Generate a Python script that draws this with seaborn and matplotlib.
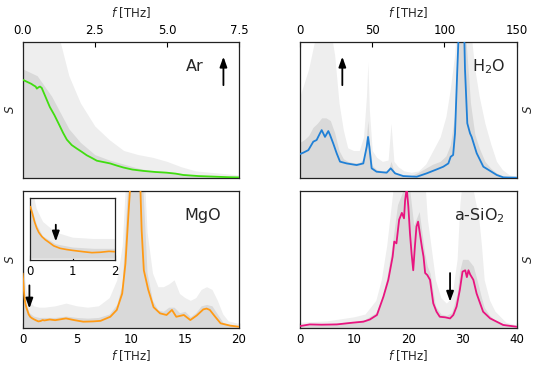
import matplotlib
matplotlib.use("Agg")
import matplotlib.pyplot as plt
import seaborn as sns
import numpy as np

sns.set_theme(style="ticks")
plt.rcParams['font.family'] = ['DejaVu Sans']
plt.rcParams['mathtext.fontset'] = 'dejavusans'

# ---------------- data ----------------
# Ar
ar_f = [0, 0.1, 0.2, 0.3, 0.37, 0.45, 0.49, 0.55, 0.6, 0.66, 0.72, 0.8, 0.94, 1.1, 1.24, 1.4, 1.53, 1.7, 1.87, 2.05,
        2.22, 2.4, 2.57, 2.8, 3.03, 3.25, 3.49, 3.8, 4.18, 4.6, 4.99, 5.3, 5.57, 6.1, 6.73, 7.1, 7.5]
ar_s = [0.72, 0.71, 0.70, 0.69, 0.68, 0.67, 0.655, 0.665, 0.67, 0.66, 0.63, 0.59, 0.52, 0.46, 0.40, 0.33, 0.28, 0.24, 0.215, 0.19,
        0.165, 0.145, 0.125, 0.115, 0.105, 0.09, 0.075, 0.06, 0.05, 0.042, 0.037, 0.03, 0.02, 0.012, 0.007, 0.004, 0.002]
ar_gf = [0, 0.5, 1.0, 1.3, 1.6, 2.0, 2.5, 3.0, 3.5, 4.0, 4.5, 5.0, 5.5, 6.0, 6.5, 7.0, 7.5]
ar_g_out = [1.3, 1.3, 1.2, 1.0, 0.75, 0.55, 0.38, 0.28, 0.2, 0.17, 0.15, 0.12, 0.08, 0.05, 0.04, 0.03, 0.02]
ar_g_in = [0.8, 0.75, 0.6, 0.48, 0.36, 0.26, 0.17, 0.13, 0.1, 0.07, 0.05, 0.045, 0.03, 0.018, 0.01, 0.007, 0.004]

# H2O
h_f = [0, 2.3, 5.8, 9.2, 11.5, 13.8, 15, 17.3, 19.6, 20.8, 23, 25.4, 27.7, 32.3, 39.2, 43.8, 46.2, 47.1, 48, 49.6,
       53, 60, 62.8, 65.8, 71.5, 80.8, 87.7, 94.6, 99.2, 102.7, 104.3, 106, 107.3, 108.9, 109.8, 111, 112, 113, 114.2, 115.8,
       117.7, 118.8, 122.3, 126.9, 136.2, 140.8, 150]
h_s = [0.174, 0.184, 0.203, 0.265, 0.277, 0.326, 0.35, 0.30, 0.343, 0.314, 0.252, 0.179, 0.118, 0.105, 0.093, 0.105, 0.228, 0.30, 0.228, 0.069,
       0.044, 0.037, 0.069, 0.032, 0.012, 0.007, 0.032, 0.061, 0.081, 0.105, 0.154, 0.167, 0.326, 0.8, 1.05, 1.4, 1.6, 1.4, 0.8, 0.40,
       0.326, 0.30, 0.18, 0.081, 0.02, 0.002, 0.0]
h_gf = [0, 3, 6, 9, 12, 15, 18, 21, 24, 27, 30, 33, 37, 41, 44, 46, 47, 48, 50, 53,
        57, 61, 63, 65, 68, 72, 77, 82, 87, 92, 97, 101, 104, 107, 109, 112, 115, 118, 121, 124,
        128, 132, 136, 140, 145, 150]
h_g_out = [0.6, 0.7, 0.8, 0.95, 1.1, 1.2, 1.2, 1.1, 0.9, 0.55, 0.35, 0.22, 0.2, 0.2, 0.3, 0.6, 0.85, 0.5, 0.2, 0.15,
           0.12, 0.13, 0.4, 0.12, 0.08, 0.05, 0.04, 0.05, 0.1, 0.2, 0.3, 0.45, 0.65, 0.9, 1.2, 1.6, 1.2, 1.1, 0.8, 0.6,
           0.4, 0.25, 0.12, 0.06, 0.02, 0.01]
h_g_in = [0.26, 0.28, 0.31, 0.37, 0.4, 0.44, 0.44, 0.42, 0.33, 0.2, 0.14, 0.12, 0.11, 0.11, 0.14, 0.3, 0.42, 0.26, 0.09, 0.06,
          0.05, 0.05, 0.12, 0.05, 0.025, 0.015, 0.015, 0.04, 0.07, 0.1, 0.12, 0.16, 0.24, 0.45, 1.0, 1.6, 1.0, 0.55, 0.32, 0.22,
          0.12, 0.07, 0.035, 0.015, 0.006, 0.003]

# MgO
mg_f = [0, 0.05, 0.1, 0.15, 0.2, 0.27, 0.35, 0.45, 0.55, 0.7, 0.85, 1.0, 1.25, 1.45, 1.65, 1.85, 2.0, 2.5, 3.0, 4.0,
        4.8, 5.6, 6.5, 7.2, 8.1, 8.7, 9.2, 9.5, 9.8, 10.0, 10.3, 10.5, 10.7, 10.85, 11.0, 11.2, 11.6, 12.1, 12.7, 13.3,
        13.8, 14.2, 14.9, 15.5, 16.1, 16.7, 17.0, 17.3, 17.8, 18.3, 19.2, 20.0]
mg_s = [0.397, 0.342, 0.281, 0.234, 0.2, 0.169, 0.145, 0.122, 0.098, 0.079, 0.07, 0.063, 0.053, 0.046, 0.049, 0.056, 0.053, 0.06, 0.055, 0.068,
        0.055, 0.044, 0.046, 0.05, 0.08, 0.13, 0.25, 0.47, 0.86, 1.1, 1.4, 1.5, 1.35, 1.1, 0.71, 0.42, 0.28, 0.15, 0.105, 0.093,
        0.13, 0.08, 0.093, 0.056, 0.09, 0.134, 0.14, 0.13, 0.08, 0.032, 0.015, 0.007]
mg_gf = [0, 0.15, 0.3, 0.6, 1, 1.5, 2, 3, 4, 5, 6, 7, 8, 8.7, 9.2, 9.6, 10, 10.5, 11, 11.5,
         12, 12.5, 13, 13.5, 14, 14.5, 15, 15.5, 16, 16.5, 17, 17.5, 18, 18.5, 19, 20]
mg_g_out = [0.6, 0.38, 0.28, 0.2, 0.16, 0.15, 0.15, 0.16, 0.18, 0.16, 0.15, 0.16, 0.22, 0.35, 0.6, 1.2, 1.6, 1.7, 1.5, 0.7,
            0.4, 0.3, 0.3, 0.32, 0.35, 0.25, 0.22, 0.2, 0.22, 0.28, 0.3, 0.28, 0.2, 0.1, 0.05, 0.03]
mg_g_in = [0.43, 0.26, 0.17, 0.11, 0.085, 0.075, 0.075, 0.075, 0.085, 0.075, 0.07, 0.075, 0.1, 0.17, 0.32, 0.9, 1.4, 1.6, 1.2, 0.4,
           0.2, 0.13, 0.12, 0.15, 0.15, 0.11, 0.12, 0.08, 0.11, 0.16, 0.17, 0.16, 0.1, 0.04, 0.02, 0.01]

# a-SiO2
si_f = [0, 1.8, 4, 6.8, 9.8, 11.7, 12.9, 14.2, 15.4, 16.3, 17.1, 17.4, 17.8, 18.3, 18.8, 19.2, 19.4, 19.7, 20.0, 20.3,
        20.6, 20.9, 21.2, 21.5, 21.8, 22.2, 22.5, 22.8, 23.1, 23.5, 24.0, 24.6, 25.2, 25.8, 26.8, 27.7, 28.3, 28.9, 29.5, 30.0,
        30.5, 30.8, 31.1, 31.4, 32.0, 32.6, 33.8, 35.1, 36.3, 37.5, 40]
si_s = [0.012, 0.024, 0.022, 0.024, 0.037, 0.044, 0.06, 0.093, 0.227, 0.35, 0.52, 0.63, 0.617, 0.79, 0.84, 0.80, 0.93, 1.02, 0.885, 0.69,
        0.54, 0.42, 0.59, 0.74, 0.776, 0.67, 0.59, 0.52, 0.4, 0.385, 0.35, 0.178, 0.117, 0.08, 0.076, 0.068, 0.093, 0.154, 0.276, 0.41,
        0.42, 0.37, 0.42, 0.39, 0.35, 0.25, 0.117, 0.068, 0.044, 0.02, 0.007]
si_gf = [0, 5, 10, 12, 14, 15, 16, 17, 18, 20, 21, 22, 23, 23.5, 24, 25, 26, 27, 28, 29,
         29.5, 30, 31, 32, 33, 33.5, 34, 35, 36, 38, 40]
si_g_out = [0.04, 0.05, 0.08, 0.1, 0.2, 0.35, 0.6, 0.95, 1.3, 1.4, 1.3, 1.3, 1.1, 0.8, 0.65, 0.35, 0.22, 0.18, 0.22, 0.5,
            0.9, 1.1, 1.1, 1.0, 0.8, 0.6, 0.35, 0.2, 0.12, 0.04, 0.02]
si_g_in = [0.02, 0.028, 0.045, 0.06, 0.11, 0.2, 0.36, 0.6, 0.9, 1.1, 0.75, 0.85, 0.55, 0.45, 0.4, 0.16, 0.1, 0.09, 0.11, 0.25,
           0.42, 0.5, 0.5, 0.45, 0.3, 0.22, 0.15, 0.09, 0.055, 0.02, 0.01]

# ticks / labels
ar_ticks = [0, 2.5, 5.0, 7.5]
ar_ticklabels = ['0.0', '2.5', '5.0', '7.5']
h_ticks = [0, 50, 100, 150]
mg_ticks = [0, 5, 10, 15, 20]
mg_inset_ticks = [0, 1, 2]
si_ticks = [0, 10, 20, 30, 40]

# ---------------- figure ----------------
W, H = 541, 368
fig = plt.figure(figsize=(W / 100, H / 100), dpi=100)

def rect(l, t, r, b):
    return [l / W, 1 - b / H, (r - l) / W, (b - t) / H]

ax_ar = fig.add_axes(rect(22.7, 41.7, 239, 177.7))
ax_h = fig.add_axes(rect(300, 41.7, 516.7, 177.7))
ax_mg = fig.add_axes(rect(22.7, 191, 239, 327.7))
ax_si = fig.add_axes(rect(300, 191, 516.7, 327.7))
ax_in = fig.add_axes(rect(30.3, 198.3, 115.3, 260))

GOUT = '#eeeeee'
GIN = '#d9d9d9'

def draw(ax, f, s, gf, gout, gin, color, lw=1.3):
    ax.fill_between(gf, 0, gout, color=GOUT, lw=0, zorder=1)
    ax.fill_between(gf, 0, gin, color=GIN, lw=0, zorder=2)
    sns.lineplot(x=f, y=s, ax=ax, color=color, lw=lw, zorder=3)

def style(ax, xlim, ylim, ticks, top=False, right=False, fs=8.5):
    ax.set_xlim(*xlim)
    ax.set_ylim(*ylim)
    ax.set_yticks([])
    ax.set_xticks(ticks)
    ax.tick_params(axis='x', direction='in', length=3.5, width=0.8, labelsize=fs, pad=3.5,
                   top=top, bottom=not top, labeltop=top, labelbottom=not top, colors='black')
    for sp in ax.spines.values():
        sp.set_color('#222222')
        sp.set_linewidth(0.9)
    if top:
        ax.xaxis.set_label_position('top')
    if right:
        ax.yaxis.set_label_position('right')

draw(ax_ar, ar_f, ar_s, ar_gf, ar_g_out, ar_g_in, '#40dd10')
draw(ax_h, h_f, h_s, h_gf, h_g_out, h_g_in, '#2080d6')
draw(ax_mg, mg_f, mg_s, mg_gf, mg_g_out, mg_g_in, '#ff9a15')
draw(ax_si, si_f, si_s, si_gf, si_g_out, si_g_in, '#e8157f')
draw(ax_in, mg_f, mg_s, mg_gf, mg_g_out, mg_g_in, '#ff9a15', lw=1.2)

style(ax_ar, (0, 7.5), (0, 1), ar_ticks, top=True)
ax_ar.set_xticklabels(ar_ticklabels)
style(ax_h, (0, 150), (0, 1), h_ticks, top=True, right=True)
style(ax_mg, (0, 20), (0, 1), mg_ticks)
style(ax_si, (0, 40), (0, 1), si_ticks, right=True)
style(ax_in, (0, 2), (-0.01, 0.46), mg_inset_ticks, fs=8.5)
ax_in.set_ylabel('')
ax_in.set_xlabel('')

for ax in (ax_ar, ax_h):
    ax.set_xlabel('$f$ [THz]', fontsize=8.5, labelpad=5)
for ax in (ax_mg, ax_si):
    ax.set_xlabel('$f$ [THz]', fontsize=8.5, labelpad=2)
for ax in (ax_ar, ax_h, ax_mg, ax_si):
    ax.set_ylabel('$S$', fontsize=8.5, labelpad=4)

for ax, name, px in ((ax_ar, 'Ar', 0.797), (ax_h, 'H$_2$O', 0.87), (ax_mg, 'MgO', 0.833), (ax_si, 'a-SiO$_2$', 0.83)):
    ax.text(px, 0.82, name, transform=ax.transAxes, fontsize=11.5, ha='center', va='center', zorder=5)

arrow_kw = dict(arrowstyle='-|>,head_length=0.5,head_width=0.18', color='black', lw=1.3)
ax_ar.annotate('', xy=(6.96, 0.91), xytext=(6.96, 0.66), arrowprops=arrow_kw, zorder=6)
ax_h.annotate('', xy=(29.3, 0.91), xytext=(29.3, 0.66), arrowprops=arrow_kw, zorder=6)
ax_mg.annotate('', xy=(0.62, 0.12), xytext=(0.62, 0.33), arrowprops=arrow_kw, zorder=6)
ax_in.annotate('', xy=(0.6, 0.11), xytext=(0.6, 0.28), arrowprops=arrow_kw, zorder=6)
ax_si.annotate('', xy=(27.7, 0.17), xytext=(27.7, 0.42), arrowprops=arrow_kw, zorder=6)

ax_in.set_facecolor('white')
ax_in.set_zorder(5)

fig.savefig('out.png', dpi=100)
